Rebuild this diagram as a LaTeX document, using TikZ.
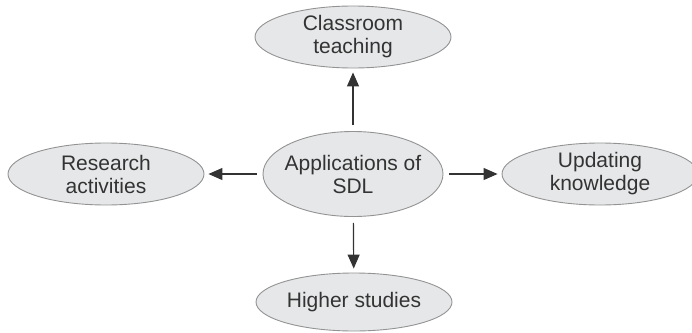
\documentclass[tikz,border=0pt]{standalone}
\usepackage{fontspec}
\setmainfont{Liberation Sans}
\usetikzlibrary{
    arrows.meta,
    positioning,
    shapes.geometric
}
\definecolor{bubblefill}{HTML}{E6E7E8}
\definecolor{bubbleline}{HTML}{939393}
\definecolor{inktext}{HTML}{333333}

\begin{document}
\begin{tikzpicture}[
    x=1pt, y=-1pt,
    % Grey bubbles
    bubble/.style={
        ellipse,
        draw=bubbleline,
        line width=0.9pt,
        fill=bubblefill,
        text=inktext,
        inner sep=0pt,
        minimum width=196pt,
        minimum height=62pt,
        align=center,
        font=\fontsize{21}{23}\selectfont
    },
    hub/.style={
        bubble,
        inner xsep=-6pt,
        minimum width=180pt,
        minimum height=85pt
    },
    spoke/.style={
        -{Triangle[length=14pt, width=12pt]},
        line width=1.2pt,
        inktext,
        shorten <=6pt,
        shorten >=4pt
    }
]
    \useasboundingbox (0,0) rectangle (692,332);
    \clip (0,0) rectangle (692,332);

    % Centre and the four uses
    \node[hub] (sdl) at (353,174) {Applications of\\SDL};
    \node[bubble] (classroom) at (353,37) {Classroom\\teaching};
    \node[bubble] (research) at (106,174) {Research\\activities};
    \node[bubble] (updating) at (600,174) {Updating\\knowledge};
    \node[bubble, minimum height=58pt] (higher) at (354,302) {Higher studies};

    % Arrows out of the centre
    \draw[spoke] (sdl) -- (classroom);
    \draw[spoke] (sdl) -- (research);
    \draw[spoke] (sdl) -- (updating);
    \draw[spoke] (sdl) -- (higher);
\end{tikzpicture}
\end{document}
